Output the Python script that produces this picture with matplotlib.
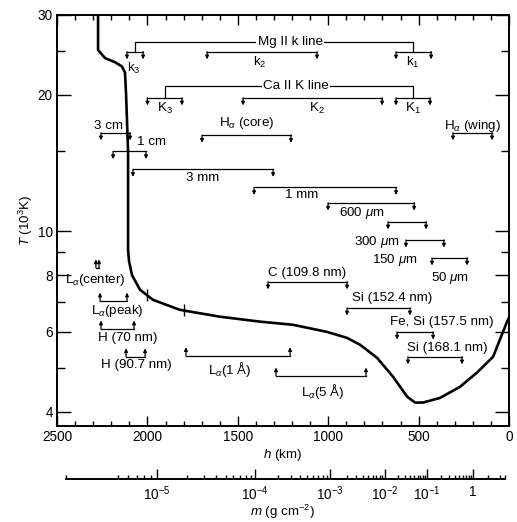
import numpy as np
import matplotlib
matplotlib.use('Agg')
import matplotlib.pyplot as plt
from matplotlib.transforms import offset_copy
from matplotlib.ticker import NullFormatter

plt.rcParams['font.family'] = ['Liberation Sans', 'DejaVu Sans']
plt.rcParams['mathtext.fontset'] = 'custom'
plt.rcParams['mathtext.rm'] = 'Liberation Sans'
plt.rcParams['mathtext.it'] = 'Liberation Sans:italic'
plt.rcParams['mathtext.bf'] = 'Liberation Sans:bold'

# temperature run with height (h in km, T in 10^3 K)
h_curve = [2273, 2273, 2234, 2179, 2141, 2124, 2118, 2107, 2107, 2107, 2102,
           2085, 2041, 1969, 1820, 1598, 1377, 1195, 1007, 896, 824, 730,
           642, 564, 520, 476, 382, 271, 177, 88, 11, 0]
T_curve = [30, 25.1, 24.1, 23.6, 23.1, 22.4, 20.0, 15.0, 10.0, 9.1, 8.6,
           8.0, 7.43, 7.06, 6.71, 6.48, 6.32, 6.22, 6.00, 5.82, 5.62, 5.26,
           4.78, 4.32, 4.19, 4.19, 4.29, 4.54, 4.88, 5.29, 6.32, 6.45]
h_marks = [2000, 1800]

# column mass vs height, for the lower scale
mass_ref = [4e-6, 5e-6, 1e-5, 1e-4, 1e-3, 1e-2, 1e-1, 1, 2, 3, 4]
h_mass_ref = [2450, 2163, 1947, 1405, 990, 686, 454, 199, 116, 50, 22]
mass_major = [1e-5, 1e-4, 1e-3, 1e-2, 1e-1, 1]
mass_labels = [r'$10^{-5}$', r'$10^{-4}$', r'$10^{-3}$', r'$10^{-2}$',
               r'$10^{-1}$', '1']

# formation ranges: (label, h1, h2, T), arrows pointing down
down_names = [r'$\mathrm{k}_3$', r'$\mathrm{k}_2$', r'$\mathrm{k}_1$',
              r'$\mathrm{K}_3$', r'$\mathrm{K}_2$', r'$\mathrm{K}_1$',
              r'$\mathrm{H}_\alpha$ (core)', r'$\mathrm{H}_\alpha$ (wing)',
              '3 cm', '1 cm', '3 mm', '1 mm', r'600 $\mu$m', r'300 $\mu$m',
              r'150 $\mu$m', r'50 $\mu$m', 'C (109.8 nm)', 'Si (152.4 nm)',
              'Fe, Si (157.5 nm)', 'Si (168.1 nm)']
down_h1 = [2113, 1670, 625, 2000, 1471, 625, 1698, 310, 2257, 2190, 2080,
           1410, 1001, 669, 570, 426, 1333, 896, 619, 559]
down_h2 = [2024, 1062, 431, 1809, 702, 437, 1206, 94, 2096, 2008, 1305,
           625, 525, 459, 360, 232, 896, 548, 420, 260]
down_T = [24.9, 24.9, 24.9, 19.7, 19.7, 19.7, 16.3, 16.5, 16.5, 15.0, 13.7,
          12.5, 11.55, 10.5, 9.57, 8.74, 7.74, 6.78, 6.00, 5.29]
down_label_at = [(2075, 22.9), (1377, 23.6), (531, 23.6), (1903, 18.7),
                 (1062, 18.7), (531, 18.7), (1449, 17.3), (205, 17.1),
                 (2218, 17.1), (1975, 15.7), (1692, 13.1), (1145, 12.0),
                 (813, 11.0), (730, 9.48), (631, 8.65), (326, 7.89),
                 (1117, 8.08), (647, 7.14), (371, 6.32), (343, 5.54)]

# arrows pointing up
up_names = [r'$\mathrm{L}_\alpha$(center)', r'$\mathrm{L}_\alpha$(peak)',
            'H (70 nm)', 'H (90.7 nm)', r'$\mathrm{L}_\alpha$(1 Å)',
            r'$\mathrm{L}_\alpha$(5 Å)']
up_h1 = [2285, 2262, 2257, 2118, 1787, 1289]
up_h2 = [2268, 2113, 2074, 2013, 1211, 791]
up_T = [8.31, 7.02, 6.09, 5.29, 5.32, 4.80]
up_label_at = [(2290, 7.82), (2168, 6.67), (2107, 5.82), (2063, 5.08),
               (1543, 4.95), (1029, 4.43)]

fs = 9.6

fig = plt.figure(figsize=(5.17, 5.22), dpi=100)
ax = fig.add_axes([0.1103, 0.1839, 0.8743, 0.7874])
ax.set_yscale('log')
ax.set_xlim(2500, 0)
ax.set_ylim(3.72, 30)

ax.plot(h_curve, T_curve, color='k', lw=1.9, solid_joinstyle='round')
T_marks = np.interp(h_marks, h_curve[::-1], T_curve[::-1])
ax.plot(h_marks, T_marks, ls='none', marker='|', ms=8, mew=1.0, color='k')

lw_b = 0.9
aprops = dict(arrowstyle='-|>', color='k', lw=lw_b, shrinkA=0, shrinkB=0,
              mutation_scale=5)


def bracket(name, h1, h2, T, at, up=False):
    ax.plot([h1, h2], [T, T], color='k', lw=lw_b)
    tip = offset_copy(ax.transData, fig=fig, y=(6 if up else -5.5),
                      units='points')
    for h in (h1, h2):
        ax.annotate('', xy=(h, T), xycoords=tip, xytext=(h, T),
                    textcoords='data', arrowprops=aprops)
    ax.text(at[0], at[1], name, ha='center', va='center', fontsize=fs)


for i, name in enumerate(down_names):
    bracket(name, down_h1[i], down_h2[i], down_T[i], down_label_at[i])
for i, name in enumerate(up_names):
    bracket(name, up_h1[i], up_h2[i], up_T[i], up_label_at[i], up=True)

# line groups joining the k/K components
groups = [('Mg II k line', 2069, 531, 24.9, 26.2, 1211),
          ('Ca II K line', 1903, 531, 19.7, 20.9, 1178)]
for name, ha_, hb_, Tb, Tt, hl in groups:
    ax.plot([ha_, ha_, hb_, hb_], [Tb, Tt, Tt, Tb], color='k', lw=lw_b)
    ax.text(hl, Tt, name, ha='center', va='center', fontsize=fs,
            bbox=dict(facecolor='white', edgecolor='none', pad=1.0))

for s in ax.spines.values():
    s.set_linewidth(1.4)

ax.set_xticks([2500, 2000, 1500, 1000, 500, 0])
ax.set_xticklabels(['2500', '2000', '1500', '1000', '500', '0'])
ax.set_xticks(np.arange(0, 2501, 100), minor=True)
ax.set_yticks([4, 6, 8, 10, 20, 30])
ax.set_yticklabels(['4', '6', '8', '10', '20', '30'])
ax.set_yticks([5, 7, 9, 15, 25], minor=True)
ax.yaxis.set_minor_formatter(NullFormatter())
ax.tick_params(which='both', direction='in', top=True, right=True,
               labelsize=9.8, width=1.0)
ax.tick_params(axis='x', which='major', length=7, pad=3)
ax.tick_params(axis='x', which='minor', length=3.5)
ax.tick_params(axis='y', which='major', length=10, pad=3)
ax.tick_params(axis='y', which='minor', length=6)
ax.set_xlabel(r'$h$ (km)', fontsize=fs, labelpad=2)
ax.set_ylabel(r'$T$ (10$^3$K)', fontsize=fs, labelpad=2)

# lower scale: column mass m
log_ref = np.log10(mass_ref)


def h_of(m):
    return np.interp(np.log10(m), log_ref, h_mass_ref)


minor_m = [k * 10.0 ** d for d in range(-6, 1) for k in range(2, 10)]
minor_m = [m for m in minor_m if mass_ref[0] <= m <= mass_ref[-1]]

ax2 = fig.add_axes([0.1103, 0.0824, 0.8743, 0.0001])
ax2.set_xlim(2500, 0)
ax2.set_yticks([])
for side in ('left', 'right', 'top'):
    ax2.spines[side].set_visible(False)
ax2.spines['bottom'].set_bounds(h_of(mass_ref[0]), h_of(mass_ref[-1]))
ax2.spines['bottom'].set_linewidth(1.4)
ax2.set_xticks(h_of(mass_major))
ax2.set_xticklabels(mass_labels)
ax2.set_xticks(h_of(minor_m), minor=True)
ax2.tick_params(which='both', direction='in', labelsize=9.8, width=1.0)
ax2.tick_params(which='major', length=7, pad=4)
ax2.tick_params(which='minor', length=3)
ax2.set_xlabel(r'$m$ (g cm$^{-2}$)', fontsize=fs, labelpad=0)

fig.savefig('out.png', dpi=100)
